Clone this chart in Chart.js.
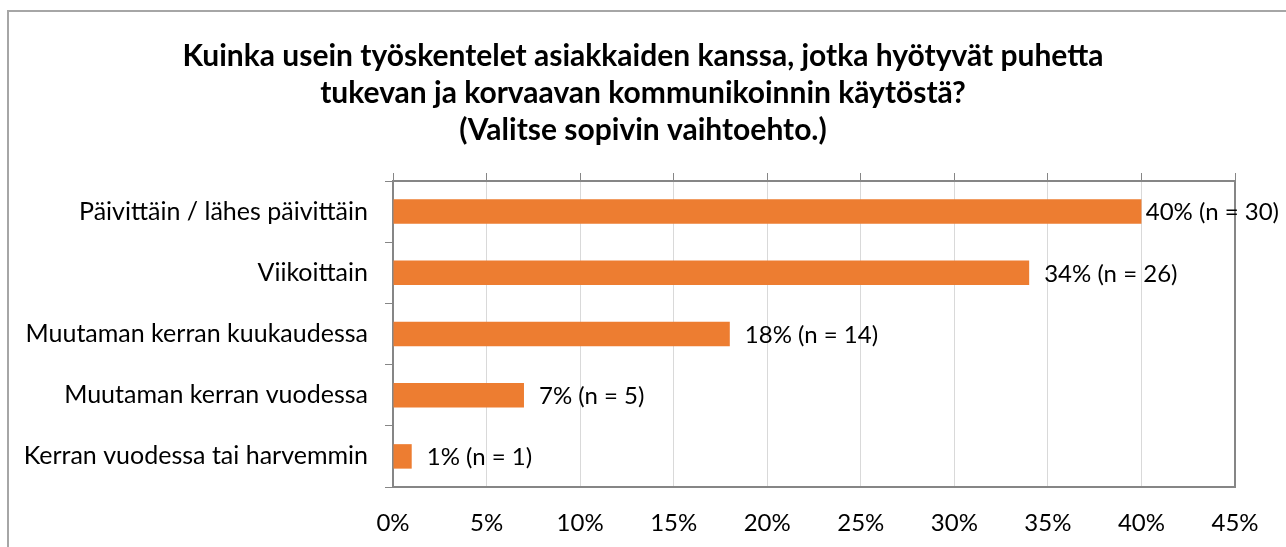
<!DOCTYPE html>
<html>
<head>
<meta charset="utf-8">
<script src="https://cdn.jsdelivr.net/npm/chart.js@4"></script>
<style>
  html, body { margin: 0; padding: 0; background: #fff; overflow: hidden; }
  #kehys { position: absolute; left: 7px; top: 10px; width: 1300px; height: 560px;
           border: 2px solid #a6a6a6; box-sizing: border-box; pointer-events: none; }
  canvas { position: absolute; left: 0; top: 0; }
</style>
</head>
<body>
<canvas id="kaavio" width="1286" height="547"></canvas>
<div id="kehys"></div>
<script>
const otsikko = [
  "Kuinka usein työskentelet asiakkaiden kanssa, jotka hyötyvät puhetta",
  "tukevan ja korvaavan kommunikoinnin käytöstä?",
  "(Valitse sopivin vaihtoehto.)"
];
const vaihtoehdot = [
  "Päivittäin / lähes päivittäin",
  "Viikoittain",
  "Muutaman kerran kuukaudessa",
  "Muutaman kerran vuodessa",
  "Kerran vuodessa tai harvemmin"
];
const osuudet = [40, 34, 18, 7, 1];
const vastaajat = [30, 26, 14, 5, 1];

const fontti = "Lato, 'Open Sans', sans-serif";
const harmaa = "#868686";

const arvoTekstit = {
  id: "arvoTekstit",
  afterDatasetsDraw(chart) {
    const ctx = chart.ctx;
    const meta = chart.getDatasetMeta(0);
    ctx.save();
    ctx.font = "24px " + fontti;
    ctx.fillStyle = "#000";
    ctx.textBaseline = "middle";
    meta.data.forEach((palkki, i) => {
      const teksti = osuudet[i] + "% (n = " + vastaajat[i] + ")";
      const leveys = ctx.measureText(teksti).width;
      let x = palkki.x + 15;
      if (x + leveys > chart.width - 7) x = chart.width - 7 - leveys;
      ctx.fillText(teksti, x, palkki.y + 1);
    });
    ctx.restore();
  }
};

new Chart(document.getElementById("kaavio"), {
  type: "bar",
  data: {
    labels: vaihtoehdot,
    datasets: [{
      data: osuudet,
      backgroundColor: "#ED7D31",
      barPercentage: 0.4,
      categoryPercentage: 1
    }]
  },
  plugins: [arvoTekstit],
  options: {
    indexAxis: "y",
    responsive: false,
    animation: false,
    devicePixelRatio: 1,
    layout: { padding: 0 },
    plugins: {
      legend: { display: false },
      tooltip: { enabled: false },
      title: {
        display: true,
        text: otsikko,
        color: "#000",
        font: { family: fontti, size: 30, weight: "bold", lineHeight: 37 / 30 },
        padding: { top: 38, bottom: 8 }
      }
    },
    scales: {
      x: {
        type: "linear",
        position: "bottom",
        min: 0,
        max: 45,
        ticks: {
          stepSize: 5,
          padding: 22,
          color: "#000",
          font: { family: fontti, size: 24 },
          callback: (v) => v + "%"
        },
        grid: { color: "#d9d9d9", lineWidth: 1, drawTicks: false },
        border: { color: harmaa, width: 2 },
        afterFit: (s) => { s.height = 60; }
      },
      x2: {
        type: "linear",
        position: "top",
        min: 0,
        max: 45,
        ticks: { stepSize: 5, display: false },
        grid: { drawOnChartArea: false, color: harmaa, lineWidth: 1, tickLength: 8 },
        border: { color: harmaa, width: 2 },
        afterFit: (s) => { s.height = 24; }
      },
      y: {
        type: "category",
        position: "left",
        ticks: { padding: 17, color: "#000", font: { family: fontti, size: 25 } },
        grid: { offset: true, drawOnChartArea: false, color: harmaa, lineWidth: 1, tickLength: 8 },
        border: { color: harmaa, width: 2 },
        afterFit: (s) => { s.width = 393; }
      },
      y2: {
        type: "linear",
        position: "right",
        ticks: { display: false },
        grid: { drawOnChartArea: false, drawTicks: false },
        border: { color: harmaa, width: 2 },
        afterFit: (s) => { s.width = 51; }
      }
    }
  }
});
</script>
</body>
</html>
